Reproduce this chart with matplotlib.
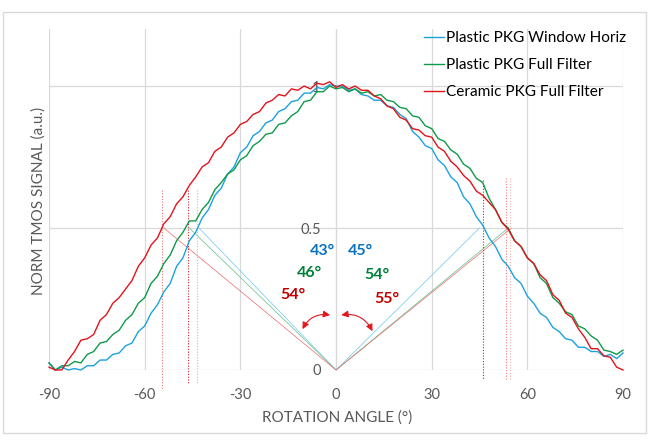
import numpy as np
import matplotlib.pyplot as plt
from matplotlib.patches import FancyArrowPatch, Rectangle

plt.rcParams["font.family"] = ["Lato", "DejaVu Sans"]
plt.rcParams["axes.unicode_minus"] = False

# rotation angles, every 2 degrees
angles = np.arange(-90, 91, 2)

plastic_window = [
    0.025, 0.0, 0.01, 0.0, 0.005, 0.0, 0.015, 0.015, 0.035, 0.035,
    0.055, 0.06, 0.085, 0.095, 0.135, 0.155, 0.2, 0.23, 0.275, 0.305,
    0.365, 0.395, 0.455, 0.485, 0.535, 0.565, 0.615, 0.64, 0.69, 0.715,
    0.765, 0.785, 0.825, 0.84, 0.87, 0.88, 0.91, 0.92, 0.945, 0.95,
    0.975, 0.975, 0.995, 0.99, 1.005, 1.0, 1.0, 0.985, 0.99, 0.97,
    0.965, 0.95, 0.95, 0.93, 0.925, 0.9, 0.885, 0.84, 0.82, 0.79,
    0.78, 0.74, 0.72, 0.68, 0.66, 0.61, 0.585, 0.54, 0.51, 0.465,
    0.435, 0.39, 0.365, 0.325, 0.305, 0.26, 0.235, 0.2, 0.185, 0.15,
    0.135, 0.11, 0.105, 0.08, 0.08, 0.065, 0.065, 0.048, 0.055, 0.04,
    0.06,
]
plastic_full = [
    0.025, 0.0, 0.015, 0.015, 0.03, 0.025, 0.055, 0.065, 0.095, 0.1,
    0.125, 0.14, 0.175, 0.195, 0.235, 0.255, 0.305, 0.33, 0.375, 0.405,
    0.455, 0.485, 0.525, 0.525, 0.565, 0.59, 0.635, 0.66, 0.69, 0.705,
    0.74, 0.755, 0.79, 0.805, 0.83, 0.835, 0.865, 0.87, 0.895, 0.91,
    0.945, 0.95, 0.98, 0.98, 1.0, 0.99, 0.995, 0.98, 0.99, 0.975,
    0.98, 0.965, 0.97, 0.95, 0.945, 0.925, 0.92, 0.895, 0.89, 0.86,
    0.85, 0.815, 0.805, 0.775, 0.76, 0.725, 0.71, 0.675, 0.66, 0.605,
    0.565, 0.52, 0.5, 0.455, 0.435, 0.395, 0.375, 0.325, 0.305, 0.255,
    0.235, 0.205, 0.195, 0.155, 0.145, 0.12, 0.105, 0.07, 0.065, 0.055,
    0.07,
]
ceramic_full = [
    0.01, 0.0, 0.0, 0.035, 0.065, 0.105, 0.11, 0.125, 0.175, 0.195,
    0.235, 0.255, 0.285, 0.315, 0.365, 0.395, 0.44, 0.465, 0.515, 0.54,
    0.585, 0.61, 0.65, 0.68, 0.715, 0.73, 0.77, 0.785, 0.82, 0.835,
    0.865, 0.875, 0.9, 0.91, 0.94, 0.95, 0.97, 0.965, 0.99, 0.985,
    1.0, 0.99, 1.01, 1.005, 1.015, 0.995, 1.005, 0.99, 1.0, 0.985,
    0.985, 0.965, 0.955, 0.93, 0.92, 0.89, 0.88, 0.85, 0.845, 0.825,
    0.82, 0.785, 0.77, 0.735, 0.715, 0.685, 0.665, 0.63, 0.615, 0.59,
    0.565, 0.52, 0.495, 0.455, 0.435, 0.395, 0.375, 0.335, 0.315, 0.265,
    0.245, 0.2, 0.185, 0.145, 0.115, 0.075, 0.075, 0.05, 0.045, 0.01,
    0.0,
]

series_names = ["Plastic PKG Window Horiz", "Plastic PKG Full Filter", "Ceramic PKG Full Filter"]
curve_colors = ["#1CA2DD", "#0E9A48", "#E2131B"]
label_colors = ["#0A72BE", "#00803A", "#C00000"]

# half-maximum angles (left, right) per series
left_angles = [-43, -46, -54]
right_angles = [45, 54, 55]
left_texts = ["43°", "46°", "54°"]
right_texts = ["45°", "54°", "55°"]

fig = plt.figure(figsize=(6.59, 4.43), dpi=100)
fig.patches.append(Rectangle((0.0046, 0.0226), 0.975, 0.95, transform=fig.transFigure,
                             fill=False, edgecolor="#D9D9D9", linewidth=1))
ax = fig.add_axes([0.0744, 0.1648, 0.871, 0.7692])

grid_c = "#D9D9D9"
for xv in [-90, -60, -30, 0, 30, 60, 90]:
    ax.axvline(xv, color=grid_c, lw=0.9, zorder=0)
for yv in [0, 0.5, 1.0]:
    ax.axhline(yv, color=grid_c, lw=0.9, zorder=0)

series = [plastic_window, plastic_full, ceramic_full]
for vals, name, c in zip(series, series_names, curve_colors):
    ax.plot(angles, vals, color=c, lw=1.0, label=name, zorder=3, clip_on=False)

# thin construction lines from origin to the half-maximum points
thin_colors = ["#6CC8EC", "#5FBF85", "#E86A6A"]
for la, ra, c in zip(left_angles, right_angles, thin_colors):
    ax.plot([la, 0, ra], [0.5, 0, 0.5], color=c, lw=0.5, zorder=2)

# dotted verticals through half-maximum points
dot = (0, (1, 1.5))
ax.plot([-54.6, -54.6], [0.634, -0.07], color="#E57373", lw=0.8, ls=dot, clip_on=False)
ax.plot([-46.4, -46.4], [0.634, -0.046], color="#C62828", lw=0.8, ls=dot, clip_on=False)
ax.plot([-43.6, -43.6], [0.634, -0.046], color="#F4A6A6", lw=0.8, ls=dot, clip_on=False)
ax.plot([46.1, 46.1], [0.67, -0.035], color="#C62828", lw=0.8, ls=dot, clip_on=False)
ax.plot([53.3, 53.3], [0.675, -0.035], color="#F08080", lw=0.8, ls=dot, clip_on=False)
ax.plot([54.5, 54.5], [0.675, -0.035], color="#F7B5B5", lw=0.8, ls=dot, clip_on=False)

# angle labels
left_pos = [(-4.4, 0.42), (-8.2, 0.342), (-13.5, 0.264)]
right_pos = [(7.5, 0.42), (12.9, 0.335), (16.0, 0.25)]
for (x, y), t, c in zip(left_pos, left_texts, label_colors):
    ax.text(x, y, t, color=c, fontsize=11.5, fontweight="bold", ha="center", va="center")
for (x, y), t, c in zip(right_pos, right_texts, label_colors):
    ax.text(x, y, t, color=c, fontsize=11.5, fontweight="bold", ha="center", va="center")

arrow_kw = dict(arrowstyle="<|-|>,head_length=4,head_width=2", color="#E3171E", lw=0.8,
                mutation_scale=1, zorder=4)
ax.add_patch(FancyArrowPatch((-10.9, 0.135), (-1.0, 0.192), connectionstyle="arc3,rad=-0.4", **arrow_kw))
ax.add_patch(FancyArrowPatch((0.8, 0.192), (11.8, 0.128), connectionstyle="arc3,rad=-0.4", **arrow_kw))

ax.set_xlim(-90, 90)
ax.set_ylim(0, 1.2)
ax.set_xticks([-90, -60, -30, 0, 30, 60, 90])
ax.set_yticks([0, 0.5, 1.0])
ax.set_yticklabels(["0", "0.5", "1"])
ax.tick_params(length=0, labelsize=10.5, colors="#595959")
ax.tick_params(axis="x", pad=13)
ax.tick_params(axis="y", pad=11)
for s in ["top", "right", "bottom"]:
    ax.spines[s].set_visible(False)
ax.spines["left"].set_position(("data", 0))
ax.spines["left"].set_color(grid_c)
ax.spines["left"].set_zorder(0)
ax.set_facecolor("none")

fig.text(39 / 659, 1 - 201 / 443, "NORM TMOS SIGNAL (a.u.)", rotation=90, ha="center", va="center",
         fontsize=11, color="#595959")
fig.text(337 / 659, 1 - 418 / 443, "ROTATION ANGLE (°)", ha="center", va="center",
         fontsize=11, color="#595959")

leg = ax.legend(loc="upper left", bbox_to_anchor=(424 / 659, 1 - 31 / 443), bbox_transform=fig.transFigure,
                frameon=False, fontsize=11.1, handlelength=1.3, handletextpad=0.1, labelspacing=0.84,
                borderpad=0, borderaxespad=0)

fig.savefig("out.png", dpi=100)
